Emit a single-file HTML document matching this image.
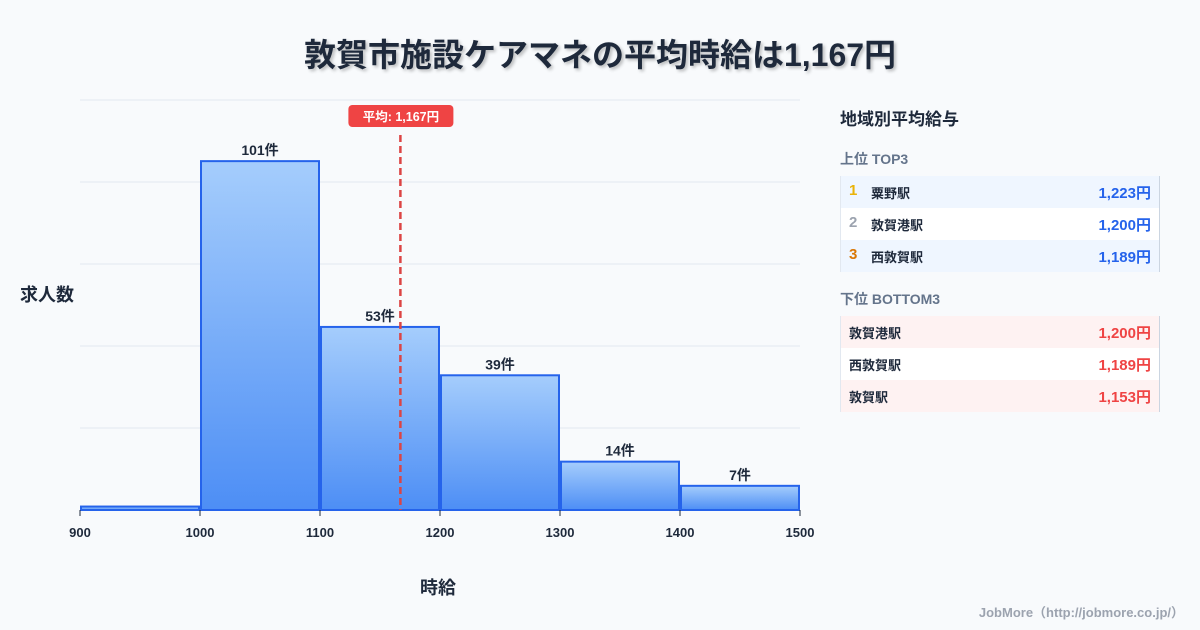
<!DOCTYPE html>
<html><head><meta charset="utf-8"><style>
body{margin:0;width:1200px;height:630px;background:#f8fafc;font-family:"Liberation Sans","Noto Sans CJK JP",sans-serif;overflow:hidden;position:relative;color:#1e293b}
.t{position:absolute;white-space:nowrap}
.row{position:absolute;left:840px;width:320px;height:32px;font-size:13px;font-weight:bold;border-left:1px solid #e2e8f0;border-right:1px solid #cbd5e1;box-sizing:border-box}
.row span{position:absolute;top:7px}
.row .r{font-size:15px;top:6px;left:8px}
.row .v{right:8px;font-size:15px;top:6px}
</style></head><body>
<div class="t" style="left:0;width:1200px;text-align:center;top:30px;font-size:32px;font-weight:bold;text-shadow:2px 2px 3px rgba(0,0,0,0.25)">敦賀市施設ケアマネの平均時給は1,167円</div>
<div class="t" style="left:20px;top:281px;font-size:18px;font-weight:bold">求人数</div>
<div class="t" style="left:420px;top:574px;font-size:18px;font-weight:bold">時給</div>
<svg id="chart" width="820" height="560" style="position:absolute;left:0;top:0">
<defs><linearGradient id="g" x1="0" y1="0" x2="0" y2="1"><stop offset="0" stop-color="#a5cdfc"/><stop offset="1" stop-color="#4d8ef5"/></linearGradient></defs>
</svg>
<div class="t" style="left:840px;top:105px;font-size:17px;font-weight:bold">地域別平均給与</div>
<div class="t" style="left:840px;top:149px;font-size:14px;font-weight:bold;color:#64748b">上位 TOP3</div>
<div class="row" style="top:176px;background:#eff6ff"><span class="r" style="color:#eab308">1</span><span style="left:30px">粟野駅</span><span class="v" style="color:#2563eb">1,223円</span></div>
<div class="row" style="top:208px;background:#fff"><span class="r" style="color:#9ca3af">2</span><span style="left:30px">敦賀港駅</span><span class="v" style="color:#2563eb">1,200円</span></div>
<div class="row" style="top:240px;background:#eff6ff"><span class="r" style="color:#d97706">3</span><span style="left:30px">西敦賀駅</span><span class="v" style="color:#2563eb">1,189円</span></div>
<div class="t" style="left:840px;top:289px;font-size:14px;font-weight:bold;color:#64748b">下位 BOTTOM3</div>
<div class="row" style="top:316px;background:#fef2f2"><span style="left:8px">敦賀港駅</span><span class="v" style="color:#ef4444">1,200円</span></div>
<div class="row" style="top:348px;background:#fff"><span style="left:8px">西敦賀駅</span><span class="v" style="color:#ef4444">1,189円</span></div>
<div class="row" style="top:380px;background:#fef2f2"><span style="left:8px">敦賀駅</span><span class="v" style="color:#ef4444">1,153円</span></div>
<div class="t" style="right:16px;top:602px;font-size:13px;font-weight:bold;color:#9ca3af">JobMore（http://jobmore.co.jp/）</div>
<script>
const binStarts=[900,1000,1100,1200,1300,1400];
const counts=[1,101,53,39,14,7];
const xTicks=[900,1000,1100,1200,1300,1400,1500];
const meanValue=1167;
const meanLabel="平均: 1,167円";
const svg=document.getElementById('chart');
const NS='http://www.w3.org/2000/svg';
const X0=80,X1=800,Y0=510,YT=100,xmin=900,xmax=1500,ymax=118.7;
const sx=v=>X0+(v-xmin)/(xmax-xmin)*(X1-X0);
const sy=v=>Y0-v/ymax*(Y0-YT);
function mk(t,a){const e=document.createElementNS(NS,t);for(const k in a)e.setAttribute(k,a[k]);svg.appendChild(e);return e;}
for(let i=0;i<=5;i++){const y=YT+i*(Y0-YT)/5;
const g=mk('line',{x1:X0,x2:X1,y1:y,y2:y,stroke:'#e2e8f0','stroke-width':1});

}
binStarts.forEach((b,i)=>{
const x=sx(b)+1,w=sx(b+100)-sx(b)-2,y=sy(counts[i]);
const r=mk('rect',{x:x,y:y,width:w,height:Y0-y,fill:'url(#g)',stroke:'#2563eb','stroke-width':2});


if(counts[i]>1){const t=mk('text',{x:x+w/2,y:y-6,'text-anchor':'middle','font-size':14,'font-weight':'bold',fill:'#1e293b'});t.textContent=counts[i]+'件';

}
});
xTicks.forEach(v=>{const x=sx(v);
const l=mk('line',{x1:x,x2:x,y1:Y0,y2:Y0+6,stroke:'#1e293b','stroke-width':1});


const t=mk('text',{x:x,y:Y0+27,'text-anchor':'middle','font-size':13,'font-weight':'bold',fill:'#1e293b'});t.textContent=v;

});
const mx=sx(meanValue);
const ml=mk('line',{x1:mx,x2:mx,y1:135,y2:Y0,stroke:'#dc4444','stroke-width':2.5,'stroke-dasharray':'7,4'});


const mb=mk('rect',{x:mx-52,y:105,width:105,height:22,rx:4,fill:'#ef4444'});


const mt=mk('text',{x:mx+0.5,y:121,'text-anchor':'middle','font-size':12.5,'font-weight':'bold',fill:'#fff'});mt.textContent=meanLabel;


</script>
</body></html>
